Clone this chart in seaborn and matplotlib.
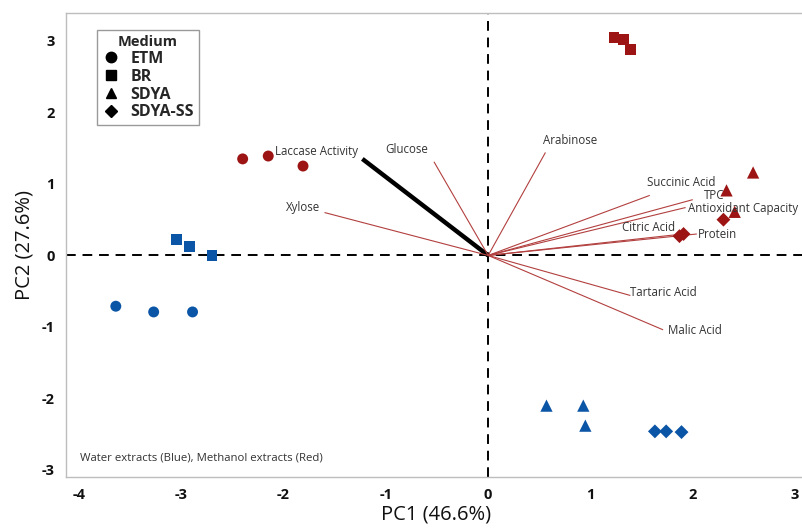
import matplotlib

matplotlib.use("Agg")

import matplotlib.pyplot as plt
from matplotlib.lines import Line2D
import pandas as pd
import seaborn as sns


# sample scores (PC1, PC2)
SCORE_MEDIUM = ["ETM"] * 3 + ["BR"] * 3 + ["SDYA"] * 3 + ["SDYA-SS"] * 3
SCORE_MEDIUM = SCORE_MEDIUM + SCORE_MEDIUM
SCORE_EXTRACT = ["Water"] * 12 + ["Methanol"] * 12
PC1 = [
    -3.64, -3.27, -2.89,
    -3.05, -2.92, -2.70,
    0.57, 0.93, 0.95,
    1.63, 1.74, 1.89,
    -2.40, -2.15, -1.81,
    1.23, 1.32, 1.39,
    2.59, 2.33, 2.41,
    2.30, 1.87, 1.91,
]
PC2 = [
    -0.71, -0.79, -0.79,
    0.22, 0.13, 0.00,
    -2.10, -2.10, -2.38,
    -2.46, -2.46, -2.47,
    1.35, 1.39, 1.25,
    3.05, 3.02, 2.88,
    1.16, 0.91, 0.61,
    0.50, 0.27, 0.30,
]

# loading vectors
LOADING_NAMES = [
    "Laccase Activity", "Glucose", "Xylose", "Arabinose", "Succinic Acid", "TPC",
    "Antioxidant Capacity", "Citric Acid", "Protein", "Tartaric Acid", "Malic Acid",
]
LOADING_X = [-1.23, -0.53, -1.60, 0.56, 1.58, 2.00, 1.93, 1.84, 2.04, 1.39, 1.71]
LOADING_Y = [1.35, 1.31, 0.60, 1.44, 0.84, 0.78, 0.67, 0.29, 0.30, -0.56, -1.04]

MEDIUM_ORDER = ["ETM", "BR", "SDYA", "SDYA-SS"]
MARKERS = {"ETM": "o", "BR": "s", "SDYA": "^", "SDYA-SS": "D"}
SIZES = {"ETM": 62, "BR": 62, "SDYA": 78, "SDYA-SS": 50}
COLORS = {"Water": "#0b55a6", "Methanol": "#9c1414"}
LINE_RED = "#b2403f"

# label placement: (dx px, dy px, ha)
LABEL_STYLE = {
    "Laccase Activity": (-4, 7, "right"),
    "Glucose": (-6, 12, "right"),
    "Xylose": (-4, 5, "right"),
    "Arabinose": (-2, 12, "left"),
    "Succinic Acid": (-3, 13, "left"),
    "TPC": (11, 4, "left"),
    "Antioxidant Capacity": (2, -1, "left"),
    "Citric Acid": (-1, 7, "right"),
    "Protein": (1, -1, "left"),
    "Tartaric Acid": (0, 3, "left"),
    "Malic Acid": (5, -1, "left"),
}

FONTS = ["Open Sans", "DejaVu Sans"]


def main() -> None:
    sns.set_theme(style="white")
    plt.rcParams["font.family"] = FONTS
    plt.rcParams["axes.unicode_minus"] = False

    scores = pd.DataFrame(
        {"medium": SCORE_MEDIUM, "extract": SCORE_EXTRACT, "PC1": PC1, "PC2": PC2}
    )
    loadings = pd.DataFrame({"name": LOADING_NAMES, "x": LOADING_X, "y": LOADING_Y})

    fig = plt.figure(figsize=(8.03, 5.30), dpi=100)
    ax = fig.add_axes([66 / 803, 53 / 530, 740 / 803, 464 / 530])

    ax.axhline(0, color="black", lw=1.4, ls=(0, (5, 3.5)), zorder=1)
    ax.axvline(0, color="black", lw=1.4, ls=(0, (5, 3.5)), zorder=1)

    for _, row in loadings.iterrows():
        is_laccase = row["name"] == "Laccase Activity"
        ax.plot(
            [0, row["x"]], [0, row["y"]],
            color="black" if is_laccase else LINE_RED,
            lw=3.2 if is_laccase else 0.8,
            solid_capstyle="butt",
            zorder=2,
        )
        dx, dy, ha = LABEL_STYLE[row["name"]]
        ax.annotate(
            row["name"], (row["x"], row["y"]),
            xytext=(dx, dy), textcoords="offset pixels",
            ha=ha, va="center", fontsize=8.3, color="#333333", zorder=4,
        )

    for medium in MEDIUM_ORDER:
        sub = scores[scores["medium"] == medium]
        sns.scatterplot(
            data=sub, x="PC1", y="PC2", hue="extract", palette=COLORS,
            marker=MARKERS[medium], s=SIZES[medium], linewidth=0,
            legend=False, ax=ax, zorder=3,
        )

    ax.set_xlim(-4.127, 3.107)
    ax.set_ylim(-3.098, 3.39)
    ax.set_xticks([-4, -3, -2, -1, 0, 1, 2, 3])
    ax.set_yticks([-3, -2, -1, 0, 1, 2, 3])
    ax.tick_params(
        axis="both", direction="out", length=3, width=0.8, color="#aaaaaa",
        labelsize=10.5, labelcolor="#111111", pad=5,
    )
    for lab in ax.get_xticklabels() + ax.get_yticklabels():
        lab.set_fontweight("bold")
    for spine in ax.spines.values():
        spine.set_color("#bdbdbd")
        spine.set_linewidth(1.0)

    ax.set_xlabel("PC1 (46.6%)", fontsize=14.5, color="#111111", labelpad=2)
    ax.set_ylabel("PC2 (27.6%)", fontsize=14.5, color="#111111", labelpad=5)

    handles = [
        Line2D([], [], ls="none", marker=MARKERS[m], color="black",
               markersize=7.5 if m != "SDYA-SS" else 6.5, label=m)
        for m in MEDIUM_ORDER
    ]
    leg = ax.legend(
        handles=handles, title="Medium", loc="upper left",
        bbox_to_anchor=(31 / 740, 1 - 17 / 464),
        frameon=True, fancybox=False, framealpha=1, edgecolor="#9a9a9a",
        borderpad=0.3, labelspacing=0.12, handletextpad=0.6, handlelength=1.2,
        borderaxespad=0.0, prop={"size": 11.5, "weight": "bold"},
    )
    leg.get_title().set_fontsize(10.5)
    leg.get_title().set_fontweight("bold")
    leg.get_frame().set_linewidth(1.0)

    ax.text(
        14 / 740, 19 / 464, "Water extracts (Blue), Methanol extracts (Red)",
        transform=ax.transAxes, fontsize=8.2, color="#333333", va="center", ha="left",
    )

    fig.savefig("out.png", dpi=100)
    plt.close(fig)


if __name__ == "__main__":
    main()
